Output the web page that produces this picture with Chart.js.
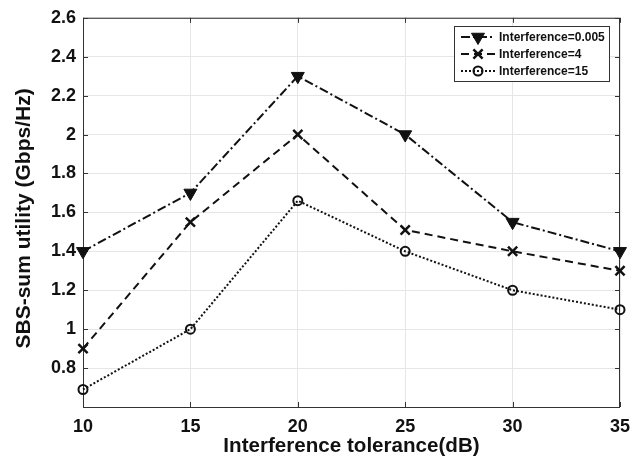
<!DOCTYPE html>
<html>
<head>
<meta charset="utf-8">
<script src="https://cdn.jsdelivr.net/npm/chart.js@4/dist/chart.umd.min.js"></script>
<style>
  html, body { margin: 0; padding: 0; background: #fff; }
  #wrap { width: 644px; height: 461px; }
</style>
</head>
<body>
<div id="wrap"><canvas id="chart" width="644" height="461"></canvas></div>
<script>
(() => {
  'use strict';

  /* ===== Data ===== */
  const tolerance = [10, 15, 20, 25, 30, 35];
  const interference0005 = [1.4, 1.7, 2.3, 2.0, 1.55, 1.4];
  const interference4 = [0.9, 1.55, 2.0, 1.51, 1.4, 1.3];
  const interference15 = [0.69, 1.0, 1.66, 1.4, 1.2, 1.1];
  const seriesLabels = ['Interference=0.005', 'Interference=4', 'Interference=15'];
  const xTitle = 'Interference tolerance(dB)';
  const yTitle = 'SBS-sum utility (Gbps/Hz)';

  const FONT = '"Liberation Sans", Arial, Helvetica, sans-serif';
  const INK = '#111';

  const points = vals => vals.map((v, i) => ({ x: tolerance[i], y: v }));

  /* ===== Frame: box, inward ticks, y title, legend ===== */
  const framePlugin = {
    id: 'frame',
    beforeDatasetsDraw(chart) {
      const { ctx, chartArea: a, scales: { x, y } } = chart;
      ctx.save();
      ctx.strokeStyle = '#333';
      ctx.lineWidth = 1;
      ctx.strokeRect(a.left + 0.5, a.top + 0.5, a.right - a.left - 1, a.bottom - a.top);
      ctx.beginPath();
      x.ticks.forEach(t => {
        const px = Math.round(x.getPixelForValue(t.value)) + 0.5;
        ctx.moveTo(px, a.bottom); ctx.lineTo(px, a.bottom - 5);
        ctx.moveTo(px, a.top); ctx.lineTo(px, a.top + 5);
      });
      y.ticks.forEach(t => {
        const py = Math.round(y.getPixelForValue(t.value)) + 0.5;
        ctx.moveTo(a.left, py); ctx.lineTo(a.left + 5, py);
        ctx.moveTo(a.right, py); ctx.lineTo(a.right - 5, py);
      });
      ctx.stroke();

      // y title, slightly below the axis centre like the original
      ctx.translate(24, (a.top + a.bottom) / 2 + 6);
      ctx.rotate(-Math.PI / 2);
      ctx.font = 'bold 21px ' + FONT;
      ctx.fillStyle = INK;
      ctx.textAlign = 'center';
      ctx.textBaseline = 'middle';
      ctx.fillText(yTitle, 0, 0);
      ctx.restore();
    },
    afterDatasetsDraw(chart) {
      const { ctx } = chart;
      const bx = 454, by = 26, bw = 155, bh = 55;
      ctx.save();
      ctx.fillStyle = '#fff';
      ctx.fillRect(bx, by, bw, bh);
      ctx.strokeStyle = '#333';
      ctx.lineWidth = 1;
      ctx.strokeRect(bx + 0.5, by + 0.5, bw, bh);
      ctx.font = 'bold 12px ' + FONT;
      ctx.textBaseline = 'middle';
      chart.data.datasets.forEach((ds, i) => {
        const cy = by + 11 + i * 17;
        ctx.save();
        ctx.strokeStyle = ds.borderColor;
        ctx.lineWidth = ds.borderWidth;
        ctx.setLineDash(ds.borderDash || []);
        ctx.beginPath();
        ctx.moveTo(461, cy); ctx.lineTo(495, cy);
        ctx.stroke();
        ctx.restore();
        ctx.save();
        ctx.strokeStyle = ds.pointBorderColor;
        ctx.fillStyle = ds.pointBackgroundColor;
        ctx.lineWidth = ds.pointBorderWidth;
        Chart.helpers.drawPoint(ctx, {
          pointStyle: ds.pointStyle,
          rotation: ds.pointRotation || 0,
          radius: ds.pointRadius,
          borderWidth: ds.pointBorderWidth
        }, 478, cy);
        ctx.restore();
        ctx.fillStyle = INK;
        ctx.fillText(seriesLabels[i], 499, cy + 1);
      });
      ctx.restore();
    }
  };

  const chart = new Chart(document.getElementById('chart'), {
    type: 'line',
    data: {
      datasets: [
        {
          label: seriesLabels[0],
          data: points(interference0005),
          borderColor: INK, borderWidth: 2, borderDash: [9, 3, 2, 3],
          pointStyle: 'triangle', pointRotation: 180, pointRadius: 7.5,
          pointBackgroundColor: INK, pointBorderColor: INK, pointBorderWidth: 1,
          clip: false
        },
        {
          label: seriesLabels[1],
          data: points(interference4),
          borderColor: INK, borderWidth: 2, borderDash: [8, 5],
          pointStyle: 'crossRot', pointRadius: 6.5,
          pointBackgroundColor: INK, pointBorderColor: INK, pointBorderWidth: 2.5,
          clip: false
        },
        {
          label: seriesLabels[2],
          data: points(interference15),
          borderColor: INK, borderWidth: 2, borderDash: [2, 2],
          pointStyle: 'circle', pointRadius: 4.5,
          pointBackgroundColor: 'rgba(0,0,0,0)', pointBorderColor: INK, pointBorderWidth: 2,
          clip: false
        }
      ]
    },
    options: {
      responsive: false,
      animation: false,
      layout: { padding: { left: 0, top: 15, right: 24, bottom: 0 } },
      plugins: { legend: { display: false }, tooltip: { enabled: false } },
      scales: {
        x: {
          type: 'linear', min: 10, max: 35,
          afterFit: s => { s.height = 54; },
          border: { display: false },
          grid: { color: '#e6e6e6', drawTicks: false },
          ticks: {
            stepSize: 5, padding: 9, color: INK,
            font: { family: FONT, size: 18, weight: 'bold' }
          },
          title: {
            display: true, text: xTitle, color: INK,
            font: { family: FONT, size: 20.6, weight: 'bold' },
            padding: { top: 0, bottom: 2 }
          }
        },
        y: {
          type: 'linear', min: 0.6, max: 2.6,
          afterFit: s => { s.width = 83; },
          border: { display: false },
          grid: { color: '#e6e6e6', drawTicks: false },
          ticks: {
            stepSize: 0.2, padding: 7, color: INK,
            font: { family: FONT, size: 18, weight: 'bold' },
            callback: v => Math.abs(v - 0.6) < 1e-6 ? '' : String(+v.toFixed(1))
          }
        }
      }
    },
    plugins: [framePlugin]
  });
})();
</script>
</body>
</html>
